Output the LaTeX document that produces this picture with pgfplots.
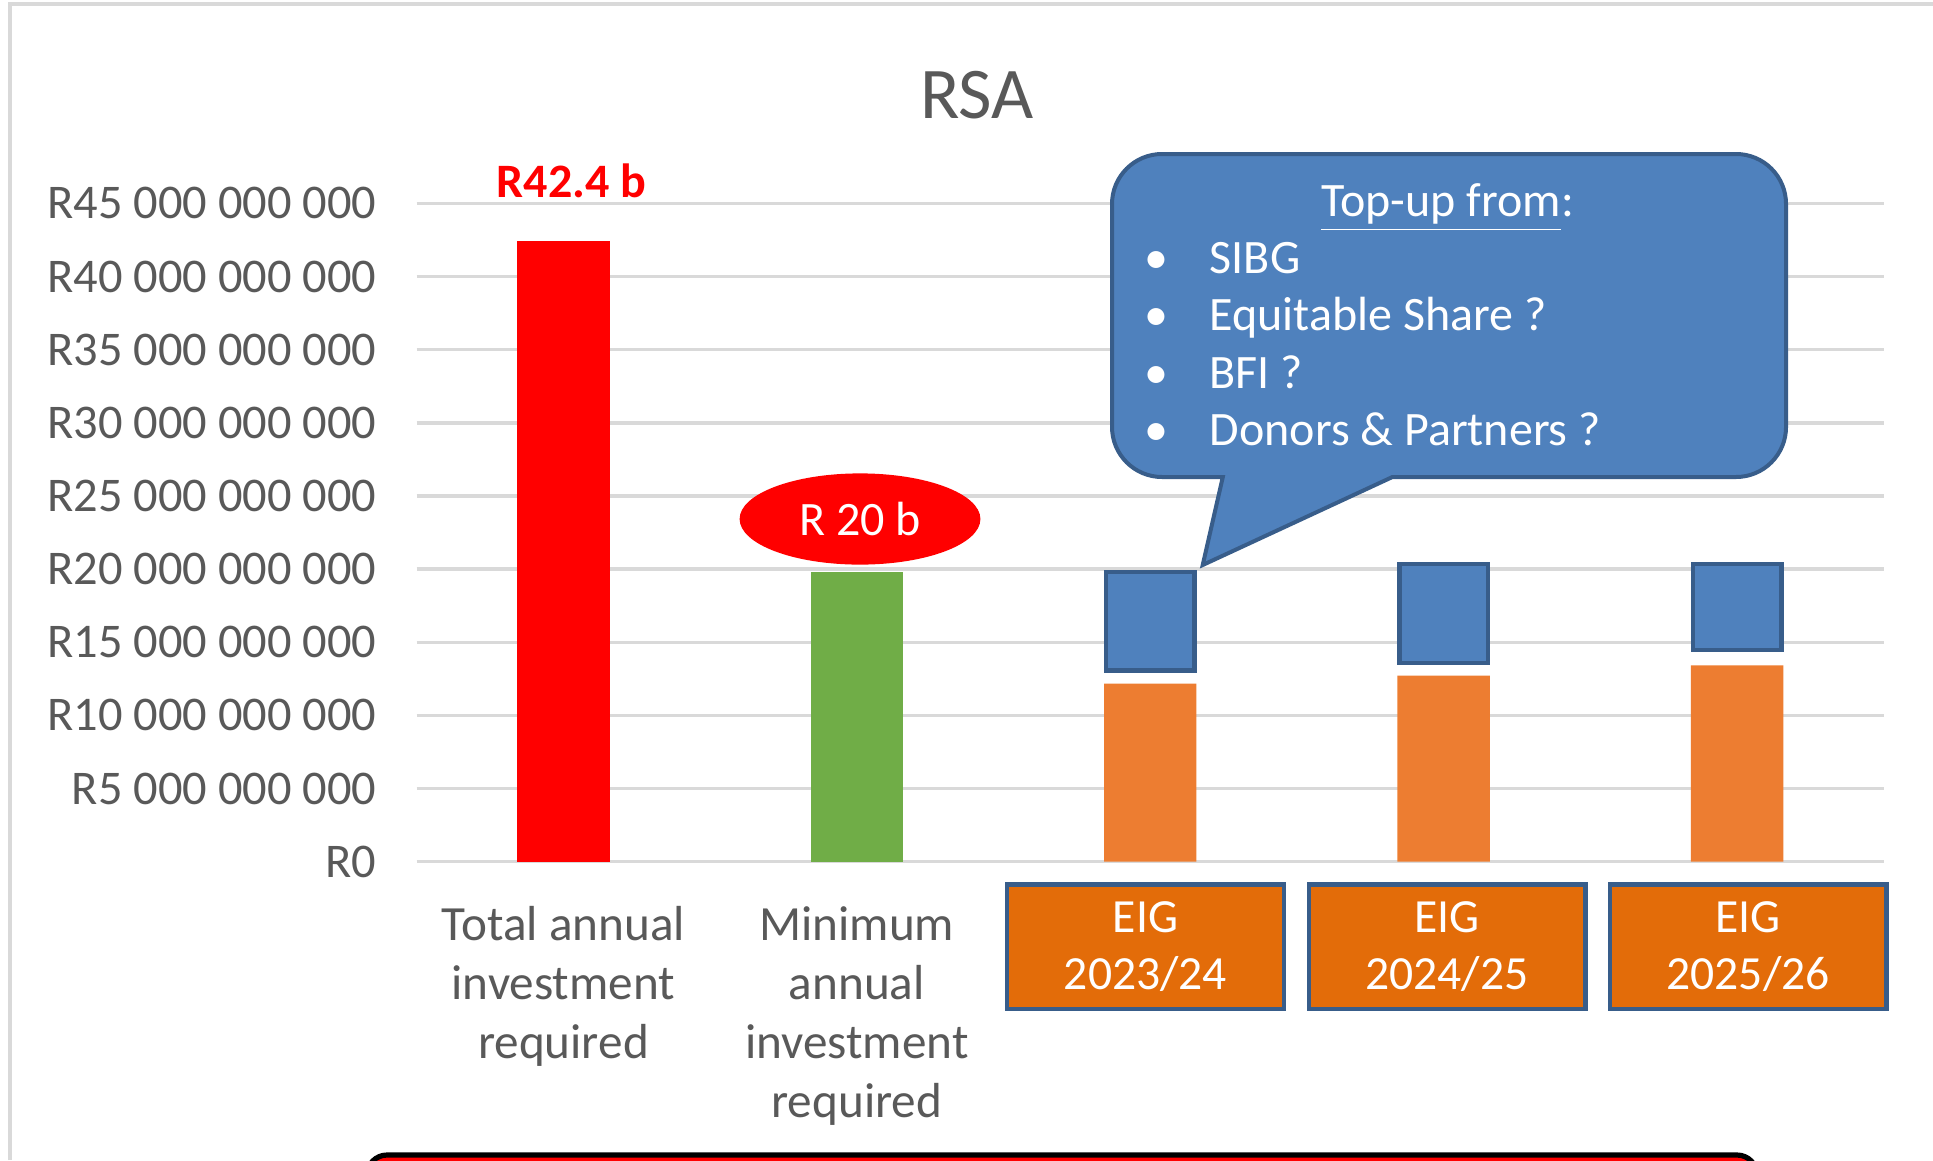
\documentclass[border=0pt]{standalone}
\usepackage{fontspec}
\setmainfont{Carlito}
\usepackage{pgfplots}
\pgfplotsset{compat=1.18}
\definecolor{gridgray}{HTML}{D9D9D9}
\definecolor{txtgray}{HTML}{595959}
\definecolor{barred}{HTML}{FF0000}
\definecolor{bargreen}{HTML}{70AD47}
\definecolor{barorange}{HTML}{ED7D31}
\definecolor{eigblue}{HTML}{4F81BD}
\definecolor{eigdark}{HTML}{385D8A}
\definecolor{eigorange}{HTML}{E36C09}
\begin{document}
\begin{tikzpicture}[x=0.25pt,y=0.25pt]
\path[use as bounding box] (0,0) rectangle (1933,1160);
\fill[white] (0,0) rectangle (1933,1160);
% outer frame
\draw[gridgray, line width=1pt] (10,0) -- (10,1156) -- (1933,1156);
% title
\node[text=txtgray, font=\fontsize{18.2}{21}\selectfont, anchor=base, inner sep=0pt] at (977,1041.7) {RSA};

\begin{axis}[
  at={(104.175pt,74.575pt)}, anchor=south west,
  scale only axis, width=366.78pt, height=164.58pt,
  xmin=-0.5, xmax=4.5, ymin=0, ymax=45,
  axis line style={draw=none},
  major tick length=0pt,
  ytick={0,5,10,15,20,25,30,35,40,45},
  yticklabels={R0, R5 000 000 000, R10 000 000 000, R15 000 000 000, R20 000 000 000, R25 000 000 000, R30 000 000 000, R35 000 000 000, R40 000 000 000, R45 000 000 000},
  xtick={0,1},
  xticklabels={{Total annual\\investment\\required},{Minimum\\annual\\investment\\required}},
  ymajorgrids, grid style={gridgray, line width=0.85pt},
  yticklabel style={font=\fontsize{12.1}{14}\selectfont, text=txtgray, inner sep=0pt, xshift=-9.9pt},
  xticklabel style={font=\fontsize{12.3}{14.75}\selectfont, text=txtgray, align=center, inner sep=0pt, anchor=north, yshift=-11pt},
  ybar, bar width=23.1pt,
  clip=false,
]
\addplot[fill=barred, draw=none, bar shift=0pt] coordinates {(0,42.4)};
\addplot[fill=bargreen, draw=none, bar shift=0pt] coordinates {(1,19.8)};
\addplot[fill=barorange, draw=none, bar shift=0pt] coordinates {(2,12.17) (3,12.72) (4,13.43)};
\end{axis}

\begin{axis}[
  at={(104.175pt,74.575pt)}, anchor=south west,
  scale only axis, width=366.78pt, height=164.58pt,
  xmin=-0.5, xmax=4.5, ymin=0, ymax=45,
  hide axis,
  ybar stacked, bar width=22.1pt,
  clip=false,
]
\addplot[draw=none, fill=none] coordinates {(2,13.07) (3,13.57) (4,14.49)};
\addplot[fill=eigblue, draw=eigdark, line width=1.1pt] coordinates {(2,6.74) (3,6.77) (4,5.85)};
\end{axis}

% value labels
\node[text=barred, font=\bfseries\fontsize{12}{14}\selectfont, anchor=base, inner sep=0pt] at (571.4,963) {R42.4 b};
\fill[barred] (860,641) ellipse [x radius=30.1pt, y radius=11.4pt];
\node[text=white, font=\fontsize{12}{14}\selectfont, inner sep=0pt] at (860,641) {R 20 b};

% callout
\filldraw[fill=eigblue, draw=eigdark, line width=1pt]
  (1202.7,595) -- (1222.8,683) -- (1162,683)
  arc[start angle=270, end angle=180, radius=12.5pt] -- (1112,956)
  arc[start angle=180, end angle=90, radius=12.5pt] -- (1736,1006)
  arc[start angle=90, end angle=0, radius=12.5pt] -- (1786,733)
  arc[start angle=0, end angle=-90, radius=12.5pt] -- (1392.4,683) -- cycle;
\begin{scope}[every node/.style={text=white, font=\fontsize{12}{14}\selectfont, inner sep=0pt}]
\node[anchor=base] at (1447.5,944) {\underline{Top-up from}:};
\node[anchor=base] at (1156,887) {\textbullet};
\node[anchor=base west] at (1209,887) {SIBG};
\node[anchor=base] at (1156,829.3) {\textbullet};
\node[anchor=base west] at (1209,829.3) {Equitable Share ?};
\node[anchor=base] at (1156,772) {\textbullet};
\node[anchor=base west] at (1209,772) {BFI ?};
\node[anchor=base] at (1156,715) {\textbullet};
\node[anchor=base west] at (1209,715) {Donors \& Partners ?};
\end{scope}

% EIG category boxes
\begin{scope}[every node/.style={draw=eigdark, fill=eigorange, line width=1.1pt, minimum width=69.15pt, minimum height=31.15pt, inner sep=0pt, text=white, align=center, font=\fontsize{11.9}{14.2}\selectfont}]
\node at (1145.5,213.3) {EIG\\2023/24};
\node at (1447,213.3) {EIG\\2024/25};
\node at (1748,213.3) {EIG\\2025/26};
\end{scope}

% bottom element partly outside the frame
\begin{scope}
\clip (0,0) rectangle (1933,1160);
\draw[black, fill=barred, line width=1.3pt, rounded corners=5pt] (367,-60) rectangle (1757,5);
\end{scope}
\end{tikzpicture}
\end{document}
